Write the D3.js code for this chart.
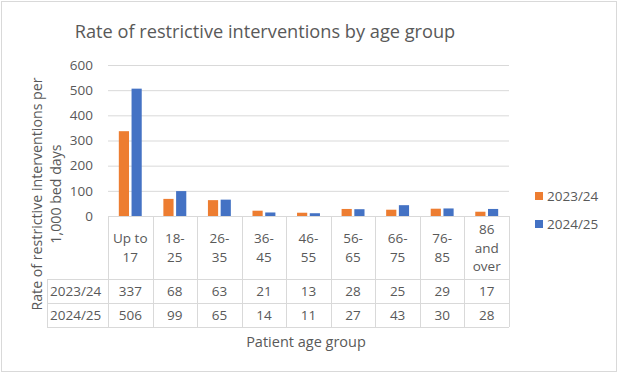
<!DOCTYPE html>
<html>
<head>
<meta charset="utf-8">
<script src="https://cdn.jsdelivr.net/npm/d3@7"></script>
<style>
  body { margin: 0; background: #fff; }
  text { font-family: "Open Sans", sans-serif; fill: #595959; }
</style>
</head>
<body>
<div id="chart"></div>
<script>
// chart data
var categories = ["Up to 17", "18-25", "26-35", "36-45", "46-55", "56-65", "66-75", "76-85", "86 and over"];
var catLines = [["Up to", "17"], ["18-", "25"], ["26-", "35"], ["36-", "45"], ["46-", "55"],
                ["56-", "65"], ["66-", "75"], ["76-", "85"], ["86", "and", "over"]];
var seriesNames = ["2023/24", "2024/25"];
var values2324 = [337, 68, 63, 21, 13, 28, 25, 29, 17];
var values2425 = [506, 99, 65, 14, 11, 27, 43, 30, 28];
var yTicks = [0, 100, 200, 300, 400, 500, 600];
var colors = ["#ED7D31", "#4472C4"];

var W = 619, H = 374;
var plot = {left: 108, right: 509, top: 65, bottom: 216};
var rowTop = 279, rowH = 24, nameLeft = 47;
var gridCol = "#d9d9d9";

var svg = d3.select("#chart").append("svg")
  .attr("width", W).attr("height", H);

// outer border
svg.append("rect")
  .attr("x", 1.5).attr("y", 1.5)
  .attr("width", W - 4).attr("height", H - 4)
  .attr("fill", "#fff").attr("stroke", "#d9d9d9");

svg.append("text")
  .attr("x", 265).attr("y", 38)
  .attr("text-anchor", "middle")
  .style("font-size", "18.2px")
  .text("Rate of restrictive interventions by age group");

var x = d3.scaleBand()
  .domain(categories)
  .range([plot.left, plot.right]);

var xs = d3.scaleBand()
  .domain(seriesNames)
  .range([0, x.bandwidth()])
  .paddingInner(0.2)
  .paddingOuter(0.85);

var y = d3.scaleLinear()
  .domain([0, 600])
  .range([plot.bottom, plot.top]);

// gridlines + tick labels via axis
var yAxis = svg.append("g")
  .attr("transform", "translate(" + plot.left + ",0)")
  .call(d3.axisLeft(y).tickValues(yTicks).tickSize(-(plot.right - plot.left)).tickPadding(15));
yAxis.select(".domain").remove();
yAxis.selectAll(".tick line").attr("stroke", gridCol);
yAxis.selectAll(".tick text")
  .attr("fill", "#595959")
  .style("font-family", "'Open Sans', sans-serif")
  .style("font-size", "13.5px");

// bars
var series = [values2324, values2425];
series.forEach(function(vals, si) {
  svg.append("g").selectAll("rect")
    .data(vals)
    .enter()
    .append("rect")
      .attr("x", function(d, i) { return x(categories[i]) + xs(seriesNames[si]); })
      .attr("y", function(d) { return y(d); })
      .attr("width", xs.bandwidth())
      .attr("height", function(d) { return y(0) - y(d); })
      .attr("fill", colors[si]);
});

// data table
var tbl = svg.append("g").attr("stroke", gridCol).attr("stroke-width", 1);
var tableBottom = rowTop + rowH * 2;
tbl.append("line")
  .attr("x1", plot.left).attr("x2", plot.right)
  .attr("y1", plot.bottom + 0.5).attr("y2", plot.bottom + 0.5);
[0, 1, 2].forEach(function(r) {
  var yy = rowTop + r * rowH + 0.5;
  tbl.append("line")
    .attr("x1", nameLeft).attr("x2", plot.right)
    .attr("y1", yy).attr("y2", yy);
});
tbl.append("line")
  .attr("x1", nameLeft + 0.5).attr("x2", nameLeft + 0.5)
  .attr("y1", rowTop).attr("y2", tableBottom);
categories.concat([null]).forEach(function(c, i) {
  var xx = Math.round(c ? x(c) : plot.right) + 0.5;
  tbl.append("line")
    .attr("x1", xx).attr("x2", xx)
    .attr("y1", plot.bottom).attr("y2", tableBottom);
});

// category labels
var catG = svg.append("g").selectAll("text")
  .data(categories)
  .enter()
  .append("text")
    .attr("text-anchor", "middle")
    .style("font-size", "13.5px");
catG.each(function(c, i) {
  var lines = catLines[i];
  var lh = 18.5;
  var mid = (plot.bottom + rowTop) / 2;
  var first = mid - (lines.length - 1) * lh / 2 + 5;
  d3.select(this).selectAll("tspan")
    .data(lines)
    .enter()
    .append("tspan")
      .attr("x", x(c) + x.bandwidth() / 2)
      .attr("y", function(d, j) { return first + j * lh; })
      .text(function(d) { return d; });
});

// value rows
series.forEach(function(vals, si) {
  var base = rowTop + si * rowH + rowH / 2 + 5;
  svg.append("text")
    .attr("x", nameLeft + 3).attr("y", base)
    .style("font-size", "13.5px")
    .text(seriesNames[si]);
  svg.append("g").selectAll("text")
    .data(vals)
    .enter()
    .append("text")
      .attr("x", function(d, i) { return x(categories[i]) + x.bandwidth() / 2; })
      .attr("y", base)
      .attr("text-anchor", "middle")
      .style("font-size", "13.5px")
      .text(function(d) { return d; });
});

// axis titles
svg.append("text")
  .attr("x", 306).attr("y", 347)
  .attr("text-anchor", "middle")
  .style("font-size", "14.5px")
  .text("Patient age group");

var yt = svg.append("text")
  .attr("transform", "translate(0,194) rotate(-90)")
  .attr("text-anchor", "middle")
  .style("font-size", "14.2px");
yt.append("tspan").attr("x", 0).attr("y", 42).text("Rate of restrictive interventions per");
yt.append("tspan").attr("x", 0).attr("y", 61).text("1,000 bed days");

// legend
var leg = svg.append("g").selectAll("g")
  .data(seriesNames)
  .enter()
  .append("g")
    .attr("transform", function(d, i) { return "translate(535," + (192 + i * 28) + ")"; });
leg.append("rect")
  .attr("width", 8).attr("height", 8)
  .attr("fill", function(d, i) { return colors[i]; });
leg.append("text")
  .attr("x", 12).attr("y", 8.5)
  .style("font-size", "13.5px")
  .text(function(d) { return d; });
</script>
</body>
</html>
